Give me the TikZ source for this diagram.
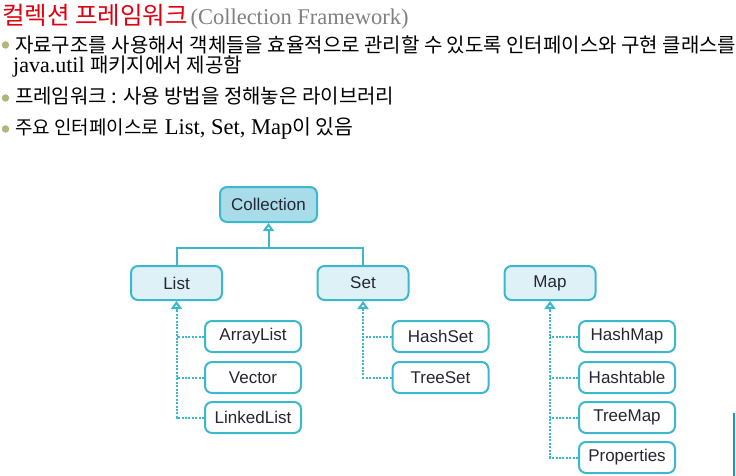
\documentclass[tikz,border=0pt]{standalone}
\usepackage{fontspec}
\setmainfont{Liberation Serif}
\setsansfont{Liberation Sans}
\newfontfamily\kr{Noto Sans CJK KR}
\usetikzlibrary{arrows.meta}
\definecolor{tealline}{HTML}{3CB8CC}
\definecolor{topfill}{HTML}{A8DCE8}
\definecolor{ifacefill}{HTML}{DDF1F6}
\definecolor{boxtext}{HTML}{262633}
\definecolor{bulletcol}{HTML}{B3B67A}
\definecolor{titlered}{HTML}{E00010}
\definecolor{edgeblue}{HTML}{2A8CC8}
\newcommand{\krtext}[2][20]{{\kr\fontsize{#1}{22}\selectfont #2}}
\tikzset{
  iface/.style={draw=tealline, line width=2pt, rounded corners=7pt, fill=ifacefill,
    minimum width=91pt, minimum height=34pt, inner sep=0pt, text=boxtext,
    font=\sffamily\fontsize{17}{19}\selectfont},
  topbox/.style={iface, fill=topfill, minimum width=97pt, minimum height=35pt},
  impl/.style={iface, fill=white, minimum width=96pt, minimum height=31pt},
  extends/.style={draw=tealline, line width=2pt, -{Triangle[open,width=11pt,length=8pt]}},
  implements/.style={extends, dash pattern=on 2pt off 1.4pt},
  dotline/.style={draw=tealline, line width=2pt, dash pattern=on 2pt off 1.4pt},
  bodytext/.style={anchor=base west, inner sep=0pt, font=\fontsize{22}{24}\selectfont},
  bullet/.style={circle, fill=bulletcol, inner sep=0pt, minimum size=7.5pt}
}
\begin{document}
\begin{tikzpicture}[x=1pt,y=-1pt]
\useasboundingbox (0,0) rectangle (736,476);
\clip (0,0) rectangle (736,476);

% heading and bullets
\node[anchor=base west, inner sep=0pt] (title) at (2,25)
  {\textcolor{titlered}{\kr\fontsize{24.5}{27}\selectfont 컬렉션 프레임워크}
   \textcolor{gray}{\fontsize{22.5}{25}\selectfont(Collection Framework)}};
\node[bullet] (b1) at (5.5,45) {};
\node[bodytext] (line1) at (15,53) {\krtext{자료구조를 사용해서 객체들을 효율적으로 관리할 수 있도록 인터페이스와 구현 클래스를}};
\node[bodytext] (line1b) at (13,73) {java.util \krtext{패키지에서 제공함}};
\node[bullet] (b2) at (5.5,98) {};
\node[bodytext] (line2) at (15,104) {\krtext{프레임워크 : 사용 방법을 정해놓은 라이브러리}};
\node[bullet] (b3) at (5.5,129) {};
\node[bodytext, font=\fontsize{22.5}{24}\selectfont] (line3) at (15,135)
  {\krtext[19]{주요 인터페이스로} List, Set, Map\krtext[20.5]{이 있음}};

% interfaces
\node[topbox] (collection) at (268.5,204.5) {Collection};
\node[iface] (list) at (176.5,283) {List};
\node[iface] (set) at (363,283) {Set};
\node[iface] (map) at (550,283) {Map};
\coordinate (join) at (268.5,248);

\draw[extends] (join) -- (collection.south);
\draw[draw=tealline, line width=2pt] (list.north) |- (join) -| (set.north);

% implementing classes
\node[impl] (arraylist) at (253,336.5) {ArrayList};
\node[impl] (vector) at (253,377.5) {Vector};
\node[impl] (linkedlist) at (253,417.5) {LinkedList};
\node[impl] (hashset) at (440.5,336.5) {HashSet};
\node[impl] (treeset) at (440.5,377.5) {TreeSet};
\node[impl] (hashmap) at (627,336.5) {HashMap};
\node[impl] (hashtable) at (627,377.5) {Hashtable};
\node[impl] (treemap) at (627,417.5) {TreeMap};
\node[impl] (properties) at (627,457.5) {Properties};

\draw[implements] (linkedlist.west) -| (list.south);
\draw[dotline] (arraylist.west) -- (arraylist.west -| list.south);
\draw[dotline] (vector.west) -- (vector.west -| list.south);

\draw[implements] (treeset.west) -| (set.south);
\draw[dotline] (hashset.west) -- (hashset.west -| set.south);

\draw[implements] (properties.west) -| (map.south);
\draw[dotline] (hashmap.west) -- (hashmap.west -| map.south);
\draw[dotline] (hashtable.west) -- (hashtable.west -| map.south);
\draw[dotline] (treemap.west) -- (treemap.west -| map.south);

% edge of the next panel
\draw[edgeblue, line width=2pt] (734,413) -- (734,476);
\end{tikzpicture}
\end{document}
